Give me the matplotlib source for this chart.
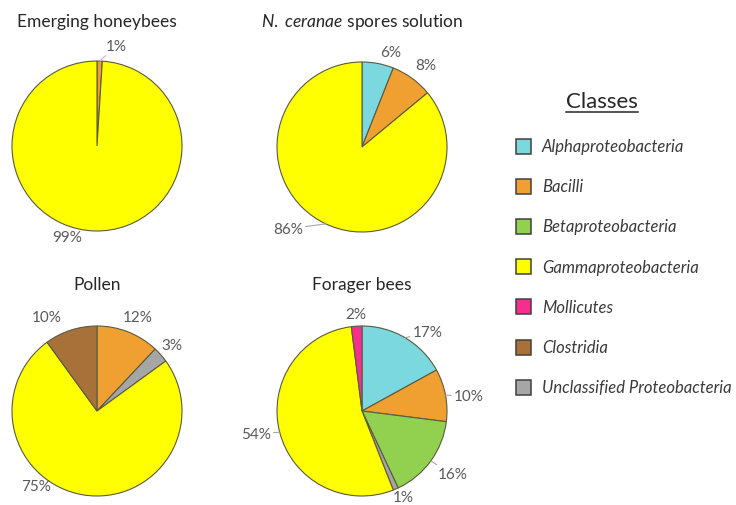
import numpy as np
import matplotlib
matplotlib.use('Agg')
import matplotlib.pyplot as plt
from matplotlib.patches import Rectangle

plt.rcParams['font.family'] = ['Lato', 'DejaVu Sans']
plt.rcParams['mathtext.fontset'] = 'custom'
plt.rcParams['mathtext.it'] = 'Lato:italic'
plt.rcParams['mathtext.rm'] = 'Lato'

# bacterial classes and their colours
classes = ['Alphaproteobacteria', 'Bacilli', 'Betaproteobacteria', 'Gammaproteobacteria',
           'Mollicutes', 'Clostridia', 'Unclassified Proteobacteria']
class_colors = ['#7ad8de', '#f0a030', '#92d050', '#ffff00', '#f72e8e', '#a8713a', '#a6a6a6']
color_of = dict(zip(classes, class_colors))

emerging_classes = ['Bacilli', 'Gammaproteobacteria']
emerging_pct = [1, 99]

spores_classes = ['Alphaproteobacteria', 'Bacilli', 'Gammaproteobacteria']
spores_pct = [6, 8, 86]

pollen_classes = ['Bacilli', 'Unclassified Proteobacteria', 'Gammaproteobacteria', 'Clostridia']
pollen_pct = [12, 3, 75, 10]

forager_classes = ['Alphaproteobacteria', 'Bacilli', 'Betaproteobacteria',
                   'Unclassified Proteobacteria', 'Gammaproteobacteria', 'Mollicutes']
forager_pct = [17, 10, 16, 1, 54, 2]

W, H = 736, 506
fig = plt.figure(figsize=(W / 100, H / 100), dpi=100)
fig.patch.set_facecolor('white')

R_PX = 85          # pie radius in pixels
LIM = 1.45
label_color = '#595959'

# title, centre (px), title y (px), label angle shift (deg, clockwise), label distance, leader line
panels = [
    ('Emerging honeybees', (97, 147), 22,
     emerging_classes, emerging_pct, [9, 16], [1.2, 1.13], [True, False]),
    (r'$\mathit{N.\ ceranae}$ spores solution', (362, 148), 22,
     spores_classes, spores_pct, [6, 2, 17], [1.17, 1.22, 1.3], [False, False, True]),
    ('Pollen', (97, 412), 285,
     pollen_classes, pollen_pct, [2, 0, 30, -10], [1.21, 1.18, 1.13, 1.25], [False] * 4),
    ('Forager bees', (362, 412), 285,
     forager_classes, forager_pct, [9, 3, -1, -2, 2, 0], [1.21, 1.27, 1.3, 1.12, 1.28, 1.14],
     [True, True, True, False, True, False]),
]

for title, (cx, cy), ty, cls, pct, shift, dist, leader in panels:
    side = 2 * LIM * R_PX
    ax = fig.add_axes([(cx - side / 2) / W, 1 - (cy + side / 2) / H, side / W, side / H])
    wedges, _ = ax.pie(pct, colors=[color_of[c] for c in cls], startangle=90,
                       counterclock=False, radius=1,
                       wedgeprops=dict(edgecolor='#5a5a40', linewidth=0.8))
    ax.set_xlim(-LIM, LIM)
    ax.set_ylim(-LIM, LIM)
    ax.set_aspect('equal')
    ax.axis('off')

    for w, v, s, d, ld in zip(wedges, pct, shift, dist, leader):
        mid = np.deg2rad((w.theta1 + w.theta2) / 2)
        lab = mid - np.deg2rad(s)
        tx, ty_ = d * np.cos(lab), d * np.sin(lab)
        edge = (np.cos(mid), np.sin(mid))
        if ld:
            lc = '#f4a0c0' if v == 1 else '#a6a6a6'
            ax.annotate(f'{v}%', xy=edge, xytext=(tx, ty_), ha='center', va='center',
                        fontsize=11, color=label_color, annotation_clip=False,
                        arrowprops=dict(arrowstyle='-', color=lc, lw=0.8,
                                        shrinkA=0, shrinkB=0))
        else:
            ax.text(tx, ty_, f'{v}%', ha='center', va='center', fontsize=11,
                    color=label_color, clip_on=False)

    fig.text(cx / W, 1 - ty / H, title, ha='center', va='center', fontsize=12.5,
             color='#262626')

# legend drawn on a pixel-space overlay
lg = fig.add_axes([0, 0, 1, 1], facecolor='none')
lg.set_xlim(0, W)
lg.set_ylim(H, 0)
lg.axis('off')

hdr = lg.text(602, 102, 'Classes', ha='center', va='center', fontsize=16, color='#262626')
fig.canvas.draw()
bb = hdr.get_window_extent(fig.canvas.get_renderer())
x0, x1 = bb.x0, bb.x1
ybase = H - bb.y0 + 1
lg.plot([x0, x1], [ybase, ybase], color='#262626', lw=1.1)

for i, (name, col) in enumerate(zip(classes, class_colors)):
    y = 147 + 40.2 * i
    lg.add_patch(Rectangle((516, y - 7.5), 15, 15, facecolor=col, edgecolor='#404040', lw=1.1))
    lg.text(542, y, name, ha='left', va='center', fontsize=12, style='italic', color='#3a3a3a')

fig.savefig('out.png', dpi=100)
